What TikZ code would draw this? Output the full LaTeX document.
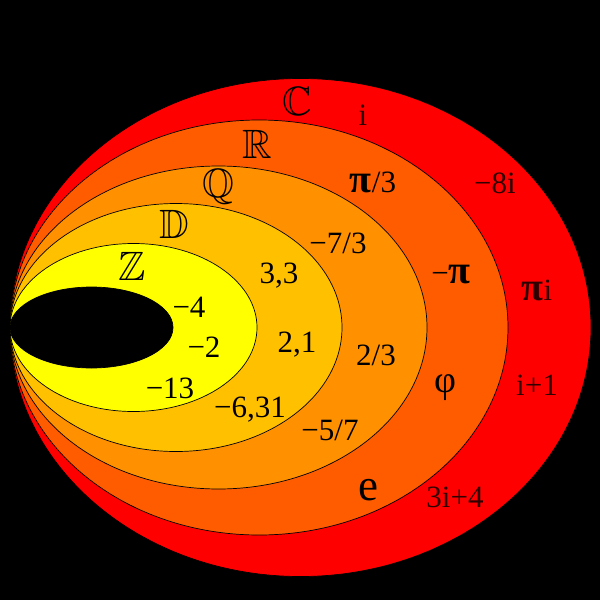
\documentclass[tikz,border=0pt]{standalone}
\usepackage{amssymb}
\usepackage{fontspec}
\setmainfont{Liberation Serif}
\definecolor{setC}{HTML}{FF0000}
\definecolor{setR}{HTML}{FF5C00}
\definecolor{setQ}{HTML}{FF9000}
\definecolor{setD}{HTML}{FFC000}
\definecolor{setZ}{HTML}{FFFF00}
\definecolor{cplxtext}{HTML}{300000}
\newcommand{\bigpi}{{\fontsize{40}{40}\selectfont\bfseries π}}

\begin{document}
\begin{tikzpicture}[x=1pt,y=-1pt,
  num/.style={anchor=base,inner sep=0pt,font=\fontsize{31}{31}\selectfont},
  cplx/.style={num,text=cplxtext},
  setname/.style={anchor=base,inner sep=0pt,font=\fontsize{41}{41}\selectfont}]
  \fill[black] (0,0) rectangle (600,600);
  \useasboundingbox (0,0) rectangle (600,600);
  % nested sets, all touching at the left
  \filldraw[fill=setC,line width=0.7pt] (300.5,327.5) ellipse [x radius=290.5,y radius=249];
  \filldraw[fill=setR,line width=0.7pt] (259,327.5) ellipse [x radius=249,y radius=207.5];
  \filldraw[fill=setQ,line width=0.7pt] (218.5,327.5) ellipse [x radius=208.5,y radius=161.5];
  \filldraw[fill=setD,line width=0.7pt] (176,327.5) ellipse [x radius=166,y radius=124];
  \filldraw[fill=setZ,line width=0.7pt] (133.5,327.5) ellipse [x radius=123.5,y radius=84];
  \filldraw[fill=black,line width=0.7pt] (91.5,327.5) ellipse [x radius=81.5,y radius=40.5];
  % set names
  \node[setname] (C) at (297,115) {$\mathbb{C}$};
  \node[setname] (R) at (257,158) {$\mathbb{R}$};
  \node[setname] (Q) at (218,197) {$\mathbb{Q}$};
  \node[setname] (D) at (174,238) {$\mathbb{D}$};
  \node[setname] (Z) at (132,280) {$\mathbb{Z}$};
  % members
  \node[cplx] (i) at (363,125) {i};
  \node[cplx] (m8i) at (495,193) {−8i};
  \node[cplx] (pii) at (537,300) {\bigpi i};
  \node[cplx] (ip1) at (537,395) {i+1};
  \node[cplx] (c3i4) at (455,507) {3i+4};
  \node[num] (pi3) at (373,192) {\bigpi/3};
  \node[num] (mpi) at (451,283) {−\bigpi};
  \node[num] (phi) at (445,392) {{\fontsize{38}{38}\selectfont φ}};
  \node[num] (e) at (368,500) {{\fontsize{45}{45}\selectfont e}};
  \node[num] (m73) at (338,253) {−7/3};
  \node[num] (t23) at (376,365) {2/3};
  \node[num] (m57) at (330,440) {−5/7};
  \node[num] (d33) at (279,283) {3,3};
  \node[num] (d21) at (297,352) {2,1};
  \node[num] (m631) at (250,417) {−6,31};
  \node[num] (m4) at (189,317) {−4};
  \node[num] (m2) at (204,357) {−2};
  \node[num] (m13) at (170,398) {−13};
\end{tikzpicture}
\end{document}
